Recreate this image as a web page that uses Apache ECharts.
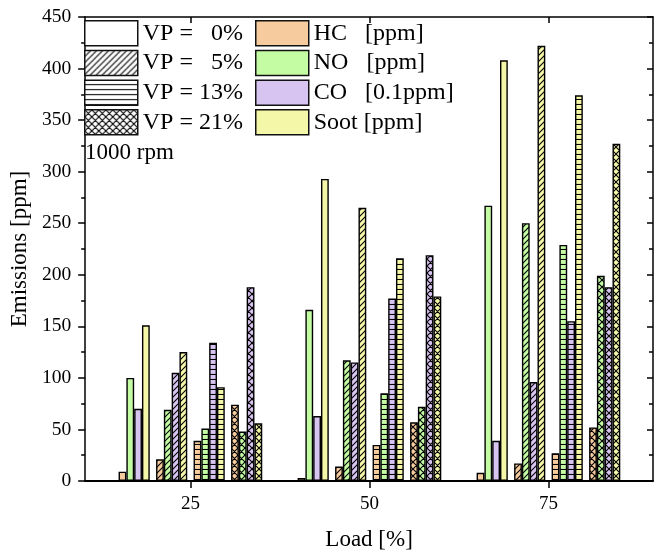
<!DOCTYPE html>
<html><head><meta charset="utf-8">
<script src="https://cdn.jsdelivr.net/npm/echarts@6/dist/echarts.min.js"></script>
<style>html,body{margin:0;padding:0;background:#fff}#c{width:654px;height:556px}</style>
</head><body><div id="c"></div>
<script>
// ---- data ----
const loads = [25, 50, 75];
const loadTicks = [25, 50, 75];
const vpLabels = ['VP =   0%', 'VP =   5%', 'VP = 13%', 'VP = 21%'];
const emissions = ['HC', 'NO', 'CO', 'Soot'];
const emissionLabels = ['HC   [ppm]', 'NO   [ppm]', 'CO   [0.1ppm]', 'Soot [ppm]'];
// rows: VP 0%, 5%, 13%, 21%; columns: load 25, 50, 75 %
const HC   = [[9, 3, 8], [21, 14, 17], [39, 35, 27], [74, 57, 52]];
const NO   = [[100, 166, 267], [69, 117, 250], [51, 85, 229], [48, 72, 199]];
const CO   = [[70, 63, 39], [105, 115, 96], [134, 177, 155], [188, 219, 188]];
const Soot = [[151, 293, 408], [125, 265, 422], [91, 216, 374], [56, 179, 327]];
const rpmNote = '1000 rpm';

// ---- styles ----
const FONT = 'Liberation Serif';
const fills = ['#F6CC9E', '#C4FCA4', '#D8C4F0', '#F4F6A8'];
const table = [HC, NO, CO, Soot];

function makePattern(fill, kind) {
  if (kind === 0) return fill;
  const c = document.createElement('canvas');
  let w = 6, h = 6;
  if (kind === 2) { w = 4; h = 5; }
  if (kind === 3) { w = 7; h = 7; }
  c.width = w; c.height = h;
  const g = c.getContext('2d');
  g.fillStyle = fill; g.fillRect(0, 0, w, h);
  g.strokeStyle = '#000';
  g.lineWidth = 1.1;
  g.beginPath();
  if (kind === 1 || kind === 3) {
    g.moveTo(0, h); g.lineTo(w, 0);
    g.moveTo(-1, 1); g.lineTo(1, -1);
    g.moveTo(w - 1, h + 1); g.lineTo(w + 1, h - 1);
  }
  if (kind === 3) {
    g.moveTo(0, 0); g.lineTo(w, h);
    g.moveTo(-1, h - 1); g.lineTo(1, h + 1);
    g.moveTo(w - 1, -1); g.lineTo(w + 1, 1);
  }
  if (kind === 2) {
    g.moveTo(0, h - 0.5); g.lineTo(w, h - 0.5);
  }
  g.stroke();
  return { image: c, repeat: 'repeat' };
}

const series = [];
for (let v = 0; v < 4; v++) {
  for (let e = 0; e < 4; e++) {
    series.push({
      name: emissions[e] + ' ' + vpLabels[v],
      type: 'bar', xAxisIndex: 0, yAxisIndex: 0,
      barWidth: 7.8, barGap: '0%',
      data: loads.map((x, i) => [x, table[e][v][i]]),
      itemStyle: { color: makePattern(fills[e], v), borderColor: '#000', borderWidth: 1.4 },
      silent: true
    });
  }
  if (v < 3) {
    series.push({ name: 'gap' + v, type: 'bar', xAxisIndex: 0, yAxisIndex: 0,
      barWidth: 6.3, barGap: '0%', data: [], silent: true });
  }
}
// legend-only series on the mirror axes
vpLabels.forEach((n, v) => series.push({ name: n, type: 'bar', xAxisIndex: 1, yAxisIndex: 1, data: [],
  itemStyle: { color: makePattern('#ffffff', v), borderColor: '#111', borderWidth: 1.5 } }));
emissionLabels.forEach((n, e) => series.push({ name: n, type: 'bar', xAxisIndex: 1, yAxisIndex: 1, data: [],
  itemStyle: { color: fills[e], borderColor: '#111', borderWidth: 1.5 } }));

const legendBase = {
  orient: 'vertical', top: 20, padding: 0, icon: 'rect', itemWidth: 53, itemHeight: 25, itemGap: 3.2,
  selectedMode: false,
  textStyle: { fontFamily: FONT, fontSize: 24, lineHeight: 25, color: '#000' },
  itemStyle: { borderColor: '#111', borderWidth: 1.5 }
};

const axisLineStyle = { color: '#000', width: 1.5 };
const option = {
  animation: false,
  backgroundColor: '#fff',
  title: { text: rpmNote, left: 85, top: 141, padding: 0,
    textStyle: { fontFamily: FONT, fontSize: 23, fontWeight: 'normal', color: '#000' } },
  legend: [
    Object.assign({}, legendBase, { left: 84, data: vpLabels }),
    Object.assign({}, legendBase, { left: 255, data: emissionLabels })
  ],
  grid: { left: 82, right: 1, top: 17, bottom: 75 },
  xAxis: [
    { type: 'value', min: 10.3, max: 89.6, position: 'bottom',
      name: 'Load [%]', nameLocation: 'middle', nameGap: 47,
      nameTextStyle: { fontFamily: FONT, fontSize: 23, color: '#000' },
      axisLine: { show: true, lineStyle: { color: '#000', width: 2 } },
      axisTick: { show: true, length: 7, customValues: loadTicks, lineStyle: { color: '#000', width: 1.5 } },
      axisLabel: { customValues: loadTicks, margin: 14, fontFamily: FONT, fontSize: 19, color: '#000' },
      splitLine: { show: false } },
    { type: 'value', min: 10.3, max: 89.6, position: 'top',
      axisLine: { show: true, onZero: false, lineStyle: axisLineStyle },
      axisTick: { show: true, inside: true, length: 6, customValues: loadTicks, lineStyle: { color: '#000', width: 1.5 } },
      axisLabel: { show: false }, splitLine: { show: false } }
  ],
  yAxis: [
    { type: 'value', min: 0, max: 450, interval: 50, position: 'left',
      name: 'Emissions [ppm]', nameLocation: 'middle', nameGap: 52,
      nameTextStyle: { fontFamily: FONT, fontSize: 23, color: '#000' },
      axisLine: { show: true, lineStyle: axisLineStyle },
      axisTick: { show: true, length: 7, lineStyle: { color: '#000', width: 1.5 } },
      minorTick: { show: true, splitNumber: 2, length: 4, lineStyle: { color: '#000', width: 1.5 } },
      axisLabel: { margin: 14, fontFamily: FONT, fontSize: 19.5, color: '#000' },
      splitLine: { show: false } },
    { type: 'value', min: 0, max: 450, interval: 50, position: 'right',
      axisLine: { show: true, onZero: false, lineStyle: axisLineStyle },
      axisTick: { show: true, inside: true, length: 6, lineStyle: { color: '#000', width: 1.5 } },
      minorTick: { show: true, splitNumber: 2, length: 4, lineStyle: { color: '#000', width: 1.5 } },
      axisLabel: { show: false }, splitLine: { show: false } }
  ],
  series: series
};
const chart = echarts.init(document.getElementById('c'), null, { renderer: 'canvas' });
chart.setOption(option);
</script>
</body></html>
